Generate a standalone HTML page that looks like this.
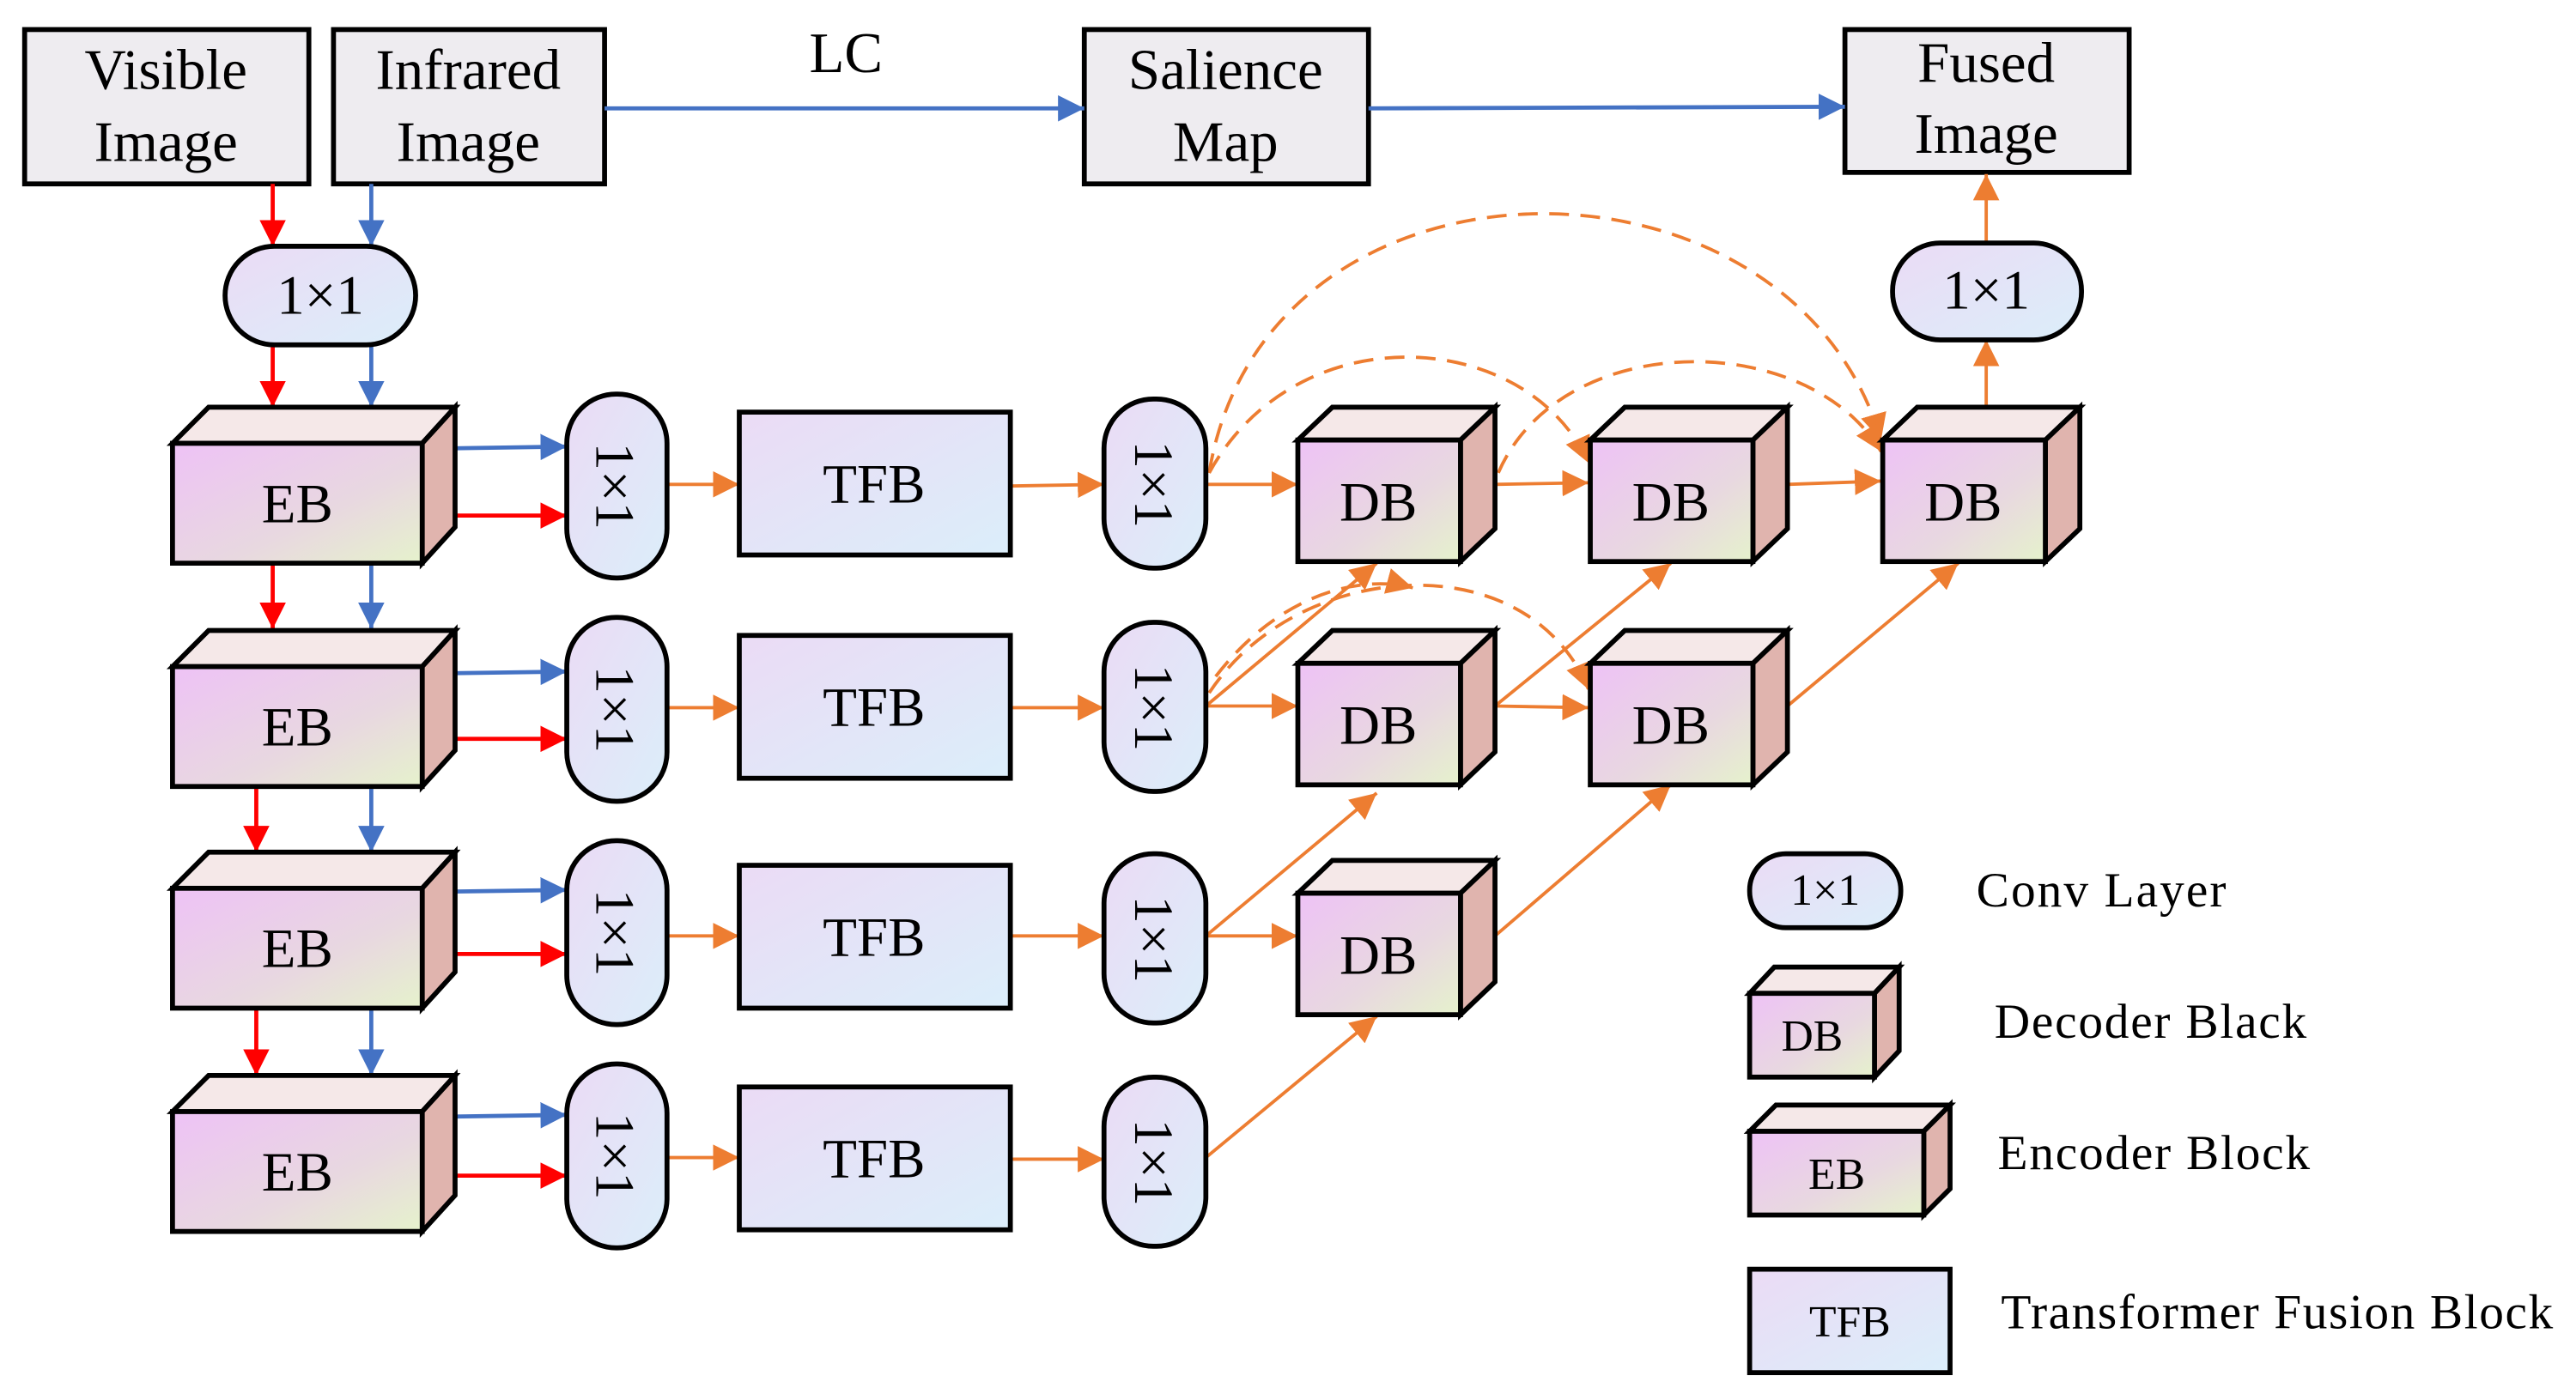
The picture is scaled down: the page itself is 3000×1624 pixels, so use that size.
<!DOCTYPE html>
<html><head><meta charset="utf-8"><style>html,body{margin:0;padding:0;background:#fff}svg{display:block}</style></head>
<body>
<svg width="3000" height="1624" viewBox="0 0 1568 849" preserveAspectRatio="none" xmlns="http://www.w3.org/2000/svg" font-family="'Liberation Serif', serif">
<defs>
<linearGradient id="fr" x1="0" y1="0" x2="1" y2="1"><stop offset="0" stop-color="#eec2f6"/><stop offset="0.6" stop-color="#e8d8e0"/><stop offset="1" stop-color="#e6f2cc"/></linearGradient>
<linearGradient id="pl" x1="0" y1="0" x2="1" y2="1"><stop offset="0" stop-color="#ebdbf5"/><stop offset="1" stop-color="#dbeefa"/></linearGradient>
<marker id="R" viewBox="0 0 10 10" refX="10" refY="5" markerWidth="16" markerHeight="16" orient="auto" markerUnits="userSpaceOnUse"><path d="M0,0L10,5L0,10z" fill="#ff0000"/></marker>
<marker id="B" viewBox="0 0 10 10" refX="10" refY="5" markerWidth="16" markerHeight="16" orient="auto" markerUnits="userSpaceOnUse"><path d="M0,0L10,5L0,10z" fill="#4472c4"/></marker>
<marker id="O" viewBox="0 0 10 10" refX="10" refY="5" markerWidth="16" markerHeight="16" orient="auto" markerUnits="userSpaceOnUse"><path d="M0,0L10,5L0,10z" fill="#ed7d31"/></marker>
<style>
.k{stroke:#000;stroke-width:3}
text{fill:#000}
</style>
</defs>

<g class="k" fill="#eeecf0">
<rect x="15" y="18" width="173" height="94"/>
<rect x="203" y="18" width="165" height="94"/>
<rect x="660" y="18" width="173" height="94"/>
<rect x="1123" y="18" width="173" height="87"/>
</g>
<g font-size="35" text-anchor="middle">
<text x="101" y="54">Visible</text><text x="101" y="98">Image</text>
<text x="285" y="54">Infrared</text><text x="285" y="98">Image</text>
<text x="746" y="54">Salience</text><text x="746" y="98">Map</text>
<text x="1209" y="50">Fused</text><text x="1209" y="93">Image</text>
<text x="515" y="44">LC</text>
</g>

<g stroke-width="2.5" fill="none">
<g stroke="#4472c4" marker-end="url(#B)">
<line x1="368" y1="66" x2="660" y2="66"/>
<line x1="833" y1="66" x2="1123" y2="65"/>
<line x1="226" y1="112" x2="226" y2="150"/>
<line x1="226" y1="210" x2="226" y2="248"/>
<line x1="226" y1="343" x2="226" y2="383"/>
<line x1="226" y1="479" x2="226" y2="519"/>
<line x1="226" y1="615" x2="226" y2="655"/>
<line x1="277" y1="273" x2="345" y2="272"/>
<line x1="277" y1="410" x2="345" y2="409"/>
<line x1="277" y1="543" x2="345" y2="542"/>
<line x1="277" y1="680" x2="345" y2="679"/>
</g>
<g stroke="#ff0000" marker-end="url(#R)">
<line x1="166" y1="112" x2="166" y2="150"/>
<line x1="166" y1="210" x2="166" y2="248"/>
<line x1="166" y1="343" x2="166" y2="383"/>
<line x1="156" y1="479" x2="156" y2="519"/>
<line x1="156" y1="615" x2="156" y2="655"/>
<line x1="277" y1="314" x2="345" y2="314"/>
<line x1="277" y1="450" x2="345" y2="450"/>
<line x1="277" y1="581" x2="345" y2="581"/>
<line x1="277" y1="716" x2="345" y2="716"/>
</g>
<g stroke="#ed7d31" stroke-width="2" marker-end="url(#O)">
<line x1="406" y1="295" x2="450" y2="295"/>
<line x1="406" y1="431" x2="450" y2="431"/>
<line x1="406" y1="570" x2="450" y2="570"/>
<line x1="406" y1="705" x2="450" y2="705"/>
<line x1="615" y1="296" x2="672" y2="295"/>
<line x1="615" y1="431" x2="672" y2="431"/>
<line x1="615" y1="570" x2="672" y2="570"/>
<line x1="615" y1="706" x2="672" y2="706"/>
<line x1="734" y1="295" x2="790" y2="295"/>
<line x1="734" y1="430" x2="790" y2="430"/>
<line x1="734" y1="570" x2="790" y2="570"/>
<line x1="734" y1="430" x2="838" y2="343"/>
<line x1="734" y1="570" x2="838" y2="483"/>
<line x1="734" y1="705" x2="838" y2="619"/>
<line x1="910" y1="295" x2="967" y2="294"/>
<line x1="910" y1="430" x2="967" y2="431"/>
<line x1="910" y1="430" x2="1017" y2="343"/>
<line x1="910" y1="570" x2="1017" y2="478"/>
<line x1="1088" y1="295" x2="1145" y2="293"/>
<line x1="1088" y1="430" x2="1192" y2="343"/>
<line x1="1209" y1="248" x2="1209" y2="207"/>
<line x1="1209" y1="148" x2="1209" y2="106"/>
</g>
<g stroke="#ed7d31" stroke-width="2" stroke-dasharray="12 7" marker-end="url(#O)">
<path d="M736,288 C770,81 1090,81 1145,268"/>
<path d="M736,288 C790,190 930,200 967,282"/>
<path d="M912,288 C950,200 1100,200 1145,275"/>
<path d="M736,422 C790,340 930,330 967,420"/>
<path d="M740,412 C780,360 830,350 860,358"/>
</g>
</g>

<g class="k" fill="url(#pl)">
<rect x="137" y="150" width="116" height="60" rx="30"/>
<rect x="1152" y="148" width="115" height="59" rx="29"/>
<rect x="345" y="240" width="61" height="112" rx="30"/>
<rect x="345" y="376" width="61" height="112" rx="30"/>
<rect x="345" y="512" width="61" height="112" rx="30"/>
<rect x="345" y="648" width="61" height="112" rx="30"/>
<rect x="672" y="243" width="62" height="103" rx="30"/>
<rect x="672" y="379" width="62" height="103" rx="30"/>
<rect x="672" y="520" width="62" height="103" rx="30"/>
<rect x="672" y="656" width="62" height="103" rx="30"/>
<rect x="450" y="251" width="165" height="87"/>
<rect x="450" y="387" width="165" height="87"/>
<rect x="450" y="527" width="165" height="87"/>
<rect x="450" y="662" width="165" height="87"/>
</g>
<g font-size="34" text-anchor="middle">
<text x="195" y="191">1×1</text>
<text x="1209" y="188">1×1</text>
<text x="532" y="306">TFB</text><text x="532" y="442">TFB</text><text x="532" y="582">TFB</text><text x="532" y="717">TFB</text>
<text transform="translate(363,296) rotate(90)">1×1</text>
<text transform="translate(363,432) rotate(90)">1×1</text>
<text transform="translate(363,568) rotate(90)">1×1</text>
<text transform="translate(363,704) rotate(90)">1×1</text>
<text transform="translate(691,295) rotate(90)">1×1</text>
<text transform="translate(691,431) rotate(90)">1×1</text>
<text transform="translate(691,572) rotate(90)">1×1</text>
<text transform="translate(691,708) rotate(90)">1×1</text>
</g>

<g class="k" stroke-linejoin="miter">
<g><path d="M105,270 L127,248 L277,248 L257,270 Z" fill="#f5e8e8"/><path d="M257,270 L277,248 L277,321 L257,343 Z" fill="#e0b4ae"/><rect x="105" y="270" width="152" height="73" fill="url(#fr)"/></g>
<g transform="translate(0,136)"><path d="M105,270 L127,248 L277,248 L257,270 Z" fill="#f5e8e8"/><path d="M257,270 L277,248 L277,321 L257,343 Z" fill="#e0b4ae"/><rect x="105" y="270" width="152" height="73" fill="url(#fr)"/></g>
<g transform="translate(0,271)"><path d="M105,270 L127,248 L277,248 L257,270 Z" fill="#f5e8e8"/><path d="M257,270 L277,248 L277,321 L257,343 Z" fill="#e0b4ae"/><rect x="105" y="270" width="152" height="73" fill="url(#fr)"/></g>
<g transform="translate(0,407)"><path d="M105,270 L127,248 L277,248 L257,270 Z" fill="#f5e8e8"/><path d="M257,270 L277,248 L277,321 L257,343 Z" fill="#e0b4ae"/><rect x="105" y="270" width="152" height="73" fill="url(#fr)"/></g>
<g><path d="M790,268 L811,248 L910,248 L889,268 Z" fill="#f5e8e8"/><path d="M889,268 L910,248 L910,322 L889,342 Z" fill="#e0b4ae"/><rect x="790" y="268" width="99" height="74" fill="url(#fr)"/></g>
<g transform="translate(0,136)"><path d="M790,268 L811,248 L910,248 L889,268 Z" fill="#f5e8e8"/><path d="M889,268 L910,248 L910,322 L889,342 Z" fill="#e0b4ae"/><rect x="790" y="268" width="99" height="74" fill="url(#fr)"/></g>
<g transform="translate(0,276)"><path d="M790,268 L811,248 L910,248 L889,268 Z" fill="#f5e8e8"/><path d="M889,268 L910,248 L910,322 L889,342 Z" fill="#e0b4ae"/><rect x="790" y="268" width="99" height="74" fill="url(#fr)"/></g>
<g transform="translate(178,0)"><path d="M790,268 L811,248 L910,248 L889,268 Z" fill="#f5e8e8"/><path d="M889,268 L910,248 L910,322 L889,342 Z" fill="#e0b4ae"/><rect x="790" y="268" width="99" height="74" fill="url(#fr)"/></g>
<g transform="translate(178,136)"><path d="M790,268 L811,248 L910,248 L889,268 Z" fill="#f5e8e8"/><path d="M889,268 L910,248 L910,322 L889,342 Z" fill="#e0b4ae"/><rect x="790" y="268" width="99" height="74" fill="url(#fr)"/></g>
<g transform="translate(356,0)"><path d="M790,268 L811,248 L910,248 L889,268 Z" fill="#f5e8e8"/><path d="M889,268 L910,248 L910,322 L889,342 Z" fill="#e0b4ae"/><rect x="790" y="268" width="99" height="74" fill="url(#fr)"/></g>
</g>
<g font-size="34" text-anchor="middle">
<text x="181" y="318">EB</text><text x="181" y="454">EB</text><text x="181" y="589">EB</text><text x="181" y="725">EB</text>
<text x="839" y="317">DB</text><text x="839" y="453">DB</text><text x="839" y="593">DB</text>
<text x="1017" y="317">DB</text><text x="1017" y="453">DB</text><text x="1195" y="317">DB</text>
</g>

<g class="k">
<rect x="1065" y="520" width="92" height="45" rx="22" fill="url(#pl)"/>
<path d="M1065,605 L1080,589 L1156,589 L1141,605 Z" fill="#f5e8e8"/>
<path d="M1141,605 L1156,589 L1156,640 L1141,656 Z" fill="#e0b4ae"/>
<rect x="1065" y="605" width="76" height="51" fill="url(#fr)"/>
<path d="M1065,689 L1081,673 L1187,673 L1171,689 Z" fill="#f5e8e8"/>
<path d="M1171,689 L1187,673 L1187,724 L1171,740 Z" fill="#e0b4ae"/>
<rect x="1065" y="689" width="106" height="51" fill="url(#fr)"/>
<rect x="1065" y="773" width="122" height="63" fill="url(#pl)"/>
</g>
<g font-size="27" text-anchor="middle">
<text x="1111" y="551">1×1</text>
<text x="1103" y="640">DB</text>
<text x="1118" y="724">EB</text>
<text x="1126" y="814">TFB</text>
</g>
<g font-size="30">
<text x="1203" y="552" textLength="152">Conv Layer</text>
<text x="1214" y="632" textLength="190">Decoder Black</text>
<text x="1216" y="712" textLength="190">Encoder Block</text>
<text x="1218" y="809" textLength="336">Transformer Fusion Block</text>
</g>
</svg>
</body></html>
